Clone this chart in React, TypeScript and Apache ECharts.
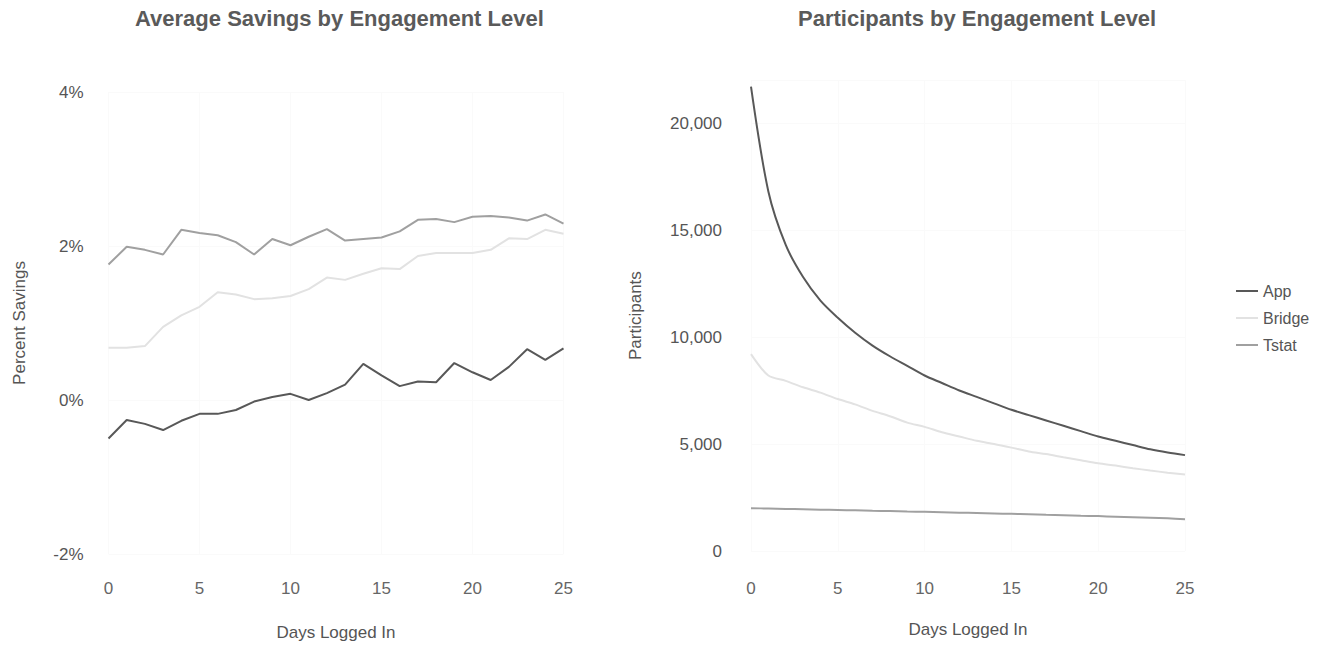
import React, { useEffect, useRef } from "react";
import * as echarts from "echarts";

const days = [0, 1, 2, 3, 4, 5, 6, 7, 8, 9, 10, 11, 12, 13, 14, 15, 16, 17, 18, 19, 20, 21, 22, 23, 24, 25];

// Average savings (%) by days logged in
const savingsApp = [-0.5, -0.26, -0.31, -0.39, -0.27, -0.18, -0.18, -0.13, -0.02, 0.04, 0.08, 0.0, 0.09, 0.2, 0.47, 0.32, 0.18, 0.24, 0.23, 0.48, 0.36, 0.26, 0.43, 0.66, 0.52, 0.67];
const savingsBridge = [0.68, 0.68, 0.7, 0.95, 1.1, 1.21, 1.4, 1.37, 1.31, 1.32, 1.35, 1.44, 1.59, 1.56, 1.64, 1.71, 1.7, 1.87, 1.91, 1.91, 1.91, 1.95, 2.1, 2.09, 2.21, 2.16];
const savingsTstat = [1.76, 1.99, 1.95, 1.89, 2.21, 2.17, 2.14, 2.05, 1.89, 2.09, 2.01, 2.12, 2.22, 2.07, 2.09, 2.11, 2.19, 2.34, 2.35, 2.31, 2.38, 2.39, 2.37, 2.33, 2.41, 2.29];

// Participants by days logged in
const partsApp = [21700, 16800, 14300, 12800, 11700, 10900, 10200, 9600, 9100, 8650, 8200, 7850, 7500, 7200, 6900, 6600, 6350, 6100, 5850, 5600, 5350, 5150, 4950, 4750, 4600, 4480];
const partsBridge = [9200, 8200, 7950, 7650, 7400, 7100, 6850, 6550, 6300, 6000, 5800, 5550, 5350, 5150, 5000, 4830, 4650, 4530, 4380, 4240, 4100, 3990, 3870, 3760, 3660, 3570];
const partsTstat = [2000, 1985, 1965, 1950, 1930, 1915, 1900, 1880, 1865, 1845, 1830, 1810, 1790, 1775, 1755, 1735, 1715, 1695, 1675, 1650, 1630, 1605, 1580, 1555, 1525, 1480];

const seriesNames = ["App", "Bridge", "Tstat"];
const seriesColors = ["#585858", "#e2e2e2", "#a0a0a0"];

const leftTitle = "Average Savings by Engagement Level";
const rightTitle = "Participants by Engagement Level";
const xName = "Days Logged In";
const leftYName = "Percent Savings";
const rightYName = "Participants";

const FONT = "'Liberation Sans', Arial, Helvetica, sans-serif";
const TEXT = "#555";
const GRID = "#fafafa";

function pairs(ys: number[]) {
  return days.map((d, i) => [d, ys[i]]);
}

export default function App() {
  const ref = useRef<HTMLDivElement>(null);

  useEffect(() => {
    const chart = echarts.init(ref.current!, null, { renderer: "svg" });
    const savings = [savingsApp, savingsBridge, savingsTstat];
    const parts = [partsApp, partsBridge, partsTstat];

    const xAxisBase = (gridIndex: number, margin: number, gap: number) => ({
      gridIndex,
      type: "value",
      min: 0,
      max: 25,
      interval: 5,
      name: xName,
      nameLocation: "middle",
      nameGap: gap,
      nameTextStyle: { color: TEXT, fontSize: 17, fontFamily: FONT },
      axisLine: { show: false },
      axisTick: { show: false },
      axisLabel: { color: "#666", fontSize: 17, fontFamily: FONT, margin },
      splitLine: { show: true, lineStyle: { color: GRID, width: 1 } },
    });

    const option: any = {
      animation: false,
      backgroundColor: "#ffffff",
      textStyle: { fontFamily: FONT },
      title: [
        {
          text: leftTitle,
          left: 135,
          top: 7,
          padding: 0,
          textStyle: { color: "#5a5a5a", fontSize: 22, fontWeight: "bold", fontFamily: FONT },
        },
        {
          text: rightTitle,
          left: 798,
          top: 7,
          padding: 0,
          textStyle: { color: "#5a5a5a", fontSize: 22, fontWeight: "bold", fontFamily: FONT },
        },
      ],
      legend: {
        orient: "vertical",
        left: 1236,
        top: 283,
        itemGap: 11,
        itemWidth: 22,
        itemHeight: 2,
        icon: "rect",
        padding: 0,
        data: seriesNames,
        textStyle: { color: TEXT, fontSize: 16, fontFamily: FONT, lineHeight: 16 },
      },
      grid: [
        { left: 108.5, top: 92, width: 455, height: 465 },
        { left: 751, top: 80.2, width: 434, height: 470.8 },
      ],
      xAxis: [xAxisBase(0, 26, 70), xAxisBase(1, 29, 70)],
      yAxis: [
        {
          gridIndex: 0,
          type: "value",
          min: -2,
          max: 4,
          interval: 2,
          name: leftYName,
          nameLocation: "middle",
          nameGap: 81,
          nameTextStyle: { color: TEXT, fontSize: 17, fontFamily: FONT },
          axisLine: { show: false },
          axisTick: { show: false },
          axisLabel: { color: TEXT, fontSize: 17, fontFamily: FONT, margin: 25, formatter: (v: number) => v + "%" },
          splitLine: { show: true, lineStyle: { color: GRID, width: 1 } },
        },
        {
          gridIndex: 1,
          type: "value",
          min: 0,
          max: 22000,
          interval: 5000,
          name: rightYName,
          nameLocation: "middle",
          nameGap: 107,
          nameTextStyle: { color: TEXT, fontSize: 17, fontFamily: FONT },
          axisLine: { show: false },
          axisTick: { show: false },
          axisLabel: {
            color: TEXT,
            fontSize: 17,
            fontFamily: FONT,
            margin: 29,
            showMaxLabel: false,
            formatter: (v: number) => (v > 21000 ? "" : v.toLocaleString("en-US")),
          },
          splitLine: { show: true, lineStyle: { color: GRID, width: 1 } },
        },
      ],
      series: [
        ...seriesNames.map((name, i) => ({
          name,
          type: "line",
          xAxisIndex: 0,
          yAxisIndex: 0,
          data: pairs(savings[i]),
          showSymbol: false,
          symbol: "none",
          color: seriesColors[i],
          lineStyle: { color: seriesColors[i], width: 2 },
          z: i === 0 ? 5 : 3,
        })),
        ...seriesNames.map((name, i) => ({
          name,
          type: "line",
          xAxisIndex: 1,
          yAxisIndex: 1,
          data: pairs(parts[i]),
          showSymbol: false,
          symbol: "none",
          smooth: 0.3,
          clip: false,
          color: seriesColors[i],
          lineStyle: { color: seriesColors[i], width: 2 },
          z: i === 0 ? 5 : 3,
        })),
      ],
    };

    chart.setOption(option);
    return () => chart.dispose();
  }, []);

  return (
    <div
      ref={ref}
      style={{ position: "fixed", left: 0, top: 0, width: 1332, height: 646, background: "#fff" }}
    />
  );
}
